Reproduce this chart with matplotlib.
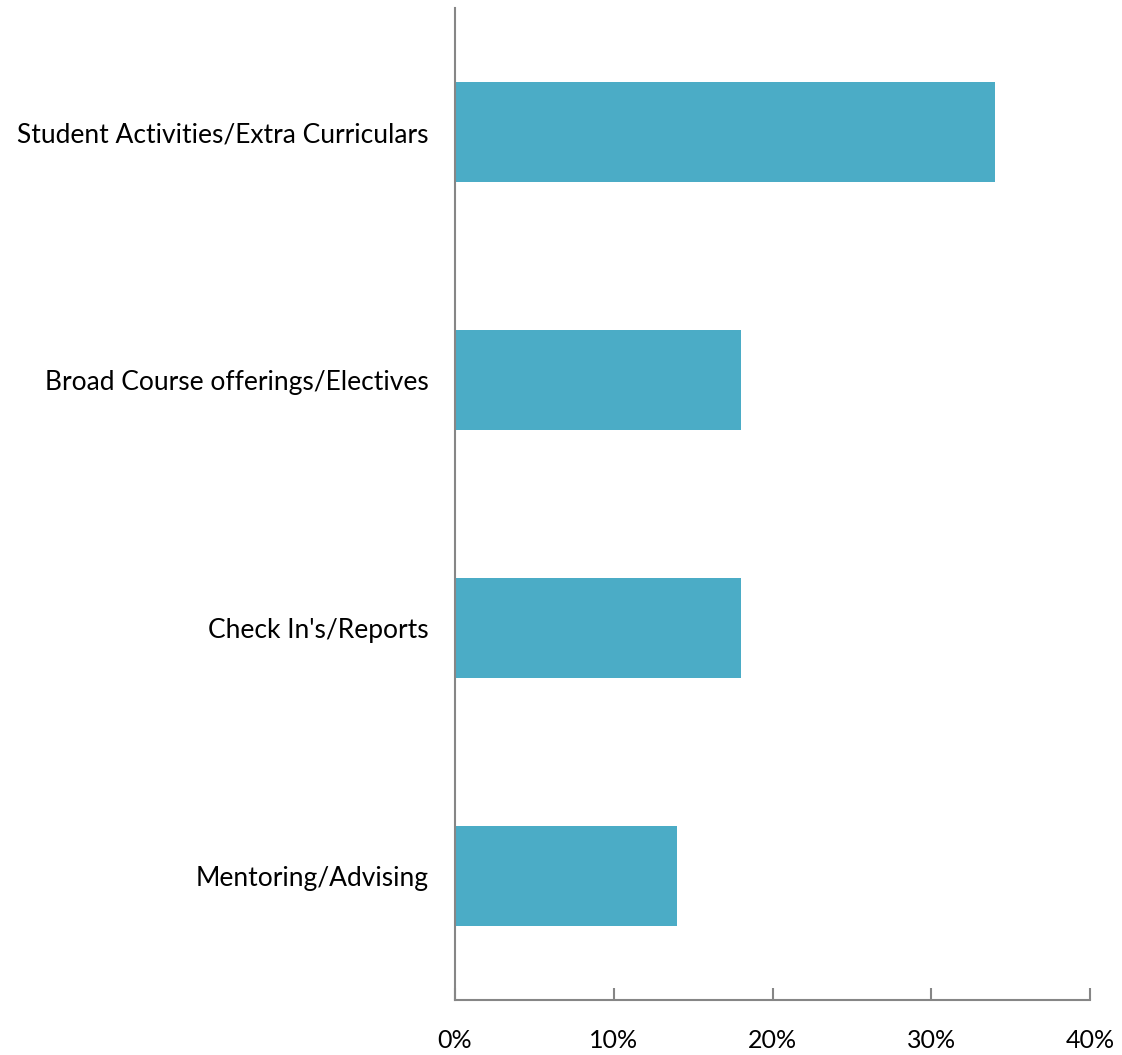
import numpy as np
import matplotlib.pyplot as plt
from matplotlib.ticker import PercentFormatter

# donnees
categories = ["Student Activities/Extra Curriculars", "Broad Course offerings/Electives",
              "Check In's/Reports", "Mentoring/Advising"]
valeurs = [34, 18, 18, 14]
ticks_x = [0, 10, 20, 30, 40]

plt.rcParams['font.family'] = ['Lato', 'DejaVu Sans']

fig = plt.figure(figsize=(11.22, 10.55), dpi=100)
ax = fig.add_axes([455/1122, 1-1000/1055, 635/1122, 992/1055])

y = np.arange(len(categories))[::-1]
ax.barh(y, valeurs, height=0.4, color='#4BACC6')

ax.set_xlim(0, 40)
ax.set_ylim(-0.5, len(categories)-0.5)
ax.set_xticks(ticks_x)
ax.xaxis.set_major_formatter(PercentFormatter(decimals=0))
ax.set_yticks(y)
ax.set_yticklabels(categories)

for s in ['top', 'right']:
    ax.spines[s].set_visible(False)
for s in ['left', 'bottom']:
    ax.spines[s].set_color('#868686')
    ax.spines[s].set_linewidth(1.5)

ax.tick_params(axis='x', direction='in', length=9, width=1.5, color='#868686',
               labelsize=18, pad=21)
ax.tick_params(axis='y', length=0, labelsize=19, pad=19)

fig.savefig('out.png', dpi=100)
